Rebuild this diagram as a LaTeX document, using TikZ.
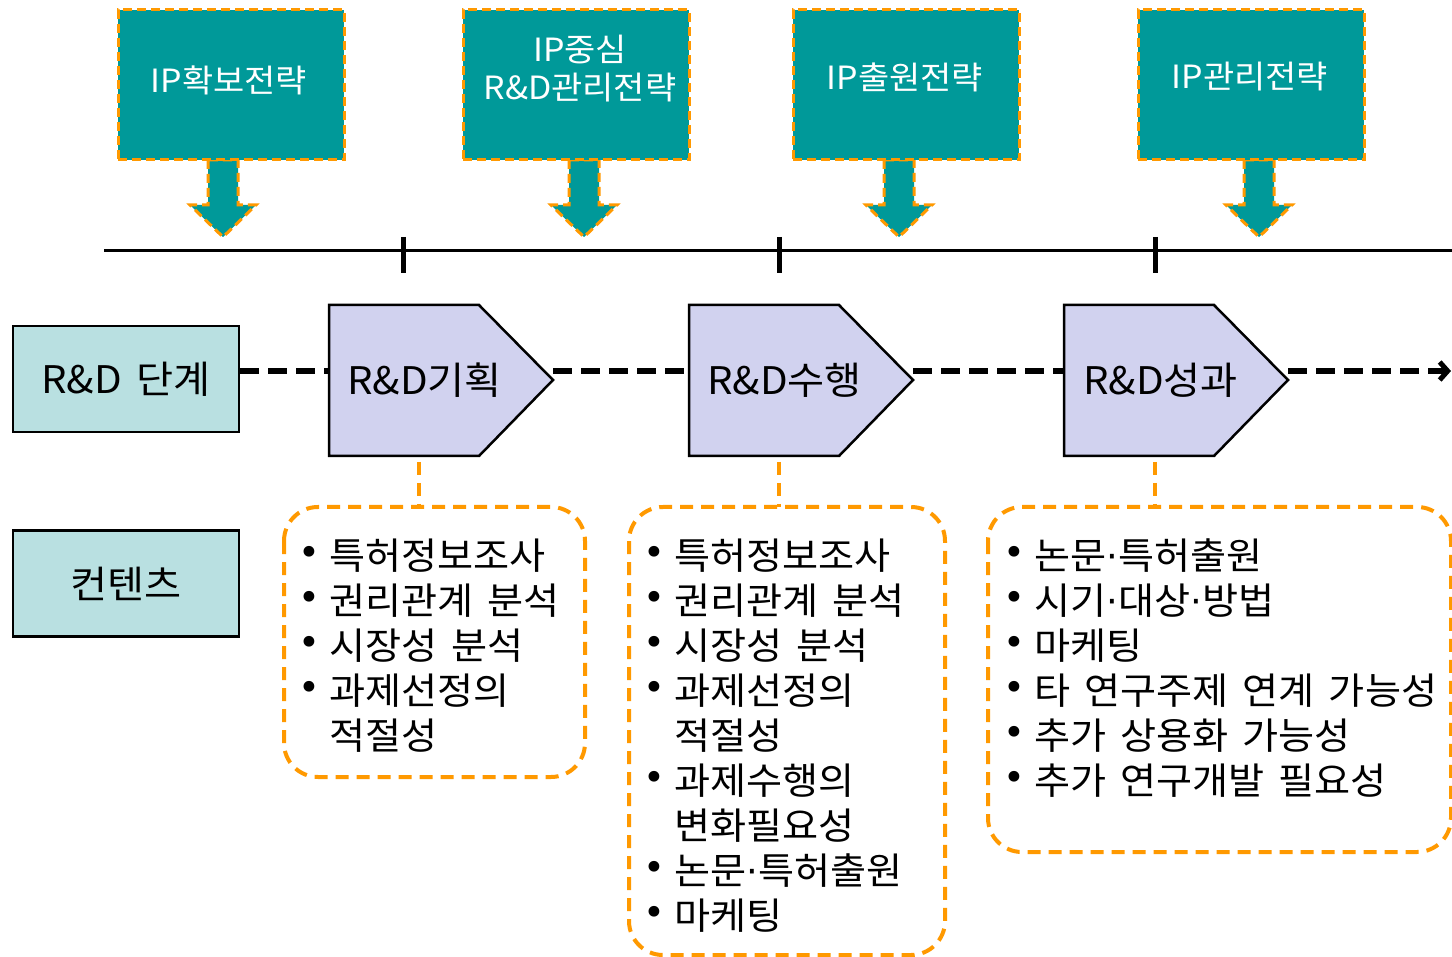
\documentclass[tikz,border=0pt]{standalone}
\usepackage{fontspec}
\setmainfont{Noto Sans CJK KR}[WordSpace=1.6,FakeStretch=1.06]
\newfontfamily\dvfont{DejaVu Sans}
\usetikzlibrary{arrows.meta}
\definecolor{tealA}{RGB}{0,153,153}
\definecolor{orngA}{RGB}{255,153,0}
\definecolor{ltealA}{RGB}{185,224,225}
\definecolor{lavA}{RGB}{209,210,239}
\newcommand\mybul{\makebox[31pt][l]{\raisebox{4pt}{\dvfont •}}}
\newcommand\myind{\hspace*{31pt}}
\newcommand\mdt{{\dvfont ·}}
\tikzset{
 topbox/.style={fill=tealA, draw=orngA, line width=3pt, dash pattern=on 9pt off 5pt,
   minimum width=226pt, minimum height=150pt, text=white,
   font=\fontsize{32}{38}\selectfont, align=center, inner sep=0pt},
 downarr/.style={fill=tealA, draw=orngA, line width=3pt, dash pattern=on 9pt off 5pt, line join=miter},
 leftbox/.style={fill=ltealA, draw=black, line width=2.5pt, minimum width=226pt,
   minimum height=106pt, font=\fontsize{38}{40}\selectfont, inner sep=0pt},
 pent/.style={fill=lavA, draw=black, line width=2.5pt, line join=miter},
 stagelbl/.style={font=\fontsize{38}{40}\selectfont, anchor=west, inner sep=0pt},
 flow/.style={line width=6pt, dash pattern=on 19pt off 9pt},
 cbox/.style={draw=orngA, line width=4pt, dash pattern=on 13pt off 8pt, rounded corners=34pt},
 clink/.style={draw=orngA, line width=4pt, dash pattern=on 13pt off 8pt},
 bullets/.style={font=\fontsize{37}{45}\selectfont, align=left, anchor=north west, inner sep=0pt},
 tline/.style={line width=3pt},
 tickmk/.style={line width=5pt}
}
\begin{document}
\begin{tikzpicture}[x=1pt,y=-1pt]
\useasboundingbox (0,0) rectangle (1452,957);
\fill[white] (0,0) rectangle (1452,957);

% down arrows
\foreach \cx/\nm in {223/a1,584/a2,899/a3,1259/a4}{
  \draw[downarr] (\cx-15,160) -- (\cx-15,205) -- (\cx-33,205) -- (\cx,237)
     -- (\cx+33,205) -- (\cx+15,205) -- (\cx+15,160) -- cycle;
}
% top boxes
\node[topbox] (t1) at (231,85) {};
\node[topbox] (t2) at (576,85) {};
\node[topbox] (t3) at (906,85) {};
\node[topbox] (t4) at (1251,85) {};
\node[text=white, font=\fontsize{32}{38}\selectfont, inner sep=0pt] (t1l) at (229,80) {IP확보전략};
\node[text=white, font=\fontsize{32}{38}\selectfont, inner sep=0pt, align=center] (t2l) at (580,69) {IP중심\\R\&D관리전략};
\node[text=white, font=\fontsize{32}{38}\selectfont, inner sep=0pt] (t3l) at (905,77) {IP출원전략};
\node[text=white, font=\fontsize{32}{38}\selectfont, inner sep=0pt] (t4l) at (1250,77) {IP관리전략};

% timeline
\coordinate (tlA) at (104,251);
\coordinate (tlB) at (1452,251);
\draw[tline] (tlA) -- (tlB);
\foreach \tx in {403,779,1155}{
  \draw[tickmk] (\tx,237) -- (\tx,273);
}

% left boxes
\node[leftbox] (stage) at (126,379) {R\&D 단계};
\node[leftbox] (content) at (126,583.5) {컨텐츠};

% pentagons
\draw[pent] (329,305) -- (479,305) -- (553,380) -- (479,456) -- (329,456) -- cycle;
\draw[pent] (689,305) -- (839,305) -- (913,380) -- (839,456) -- (689,456) -- cycle;
\draw[pent] (1064,305) -- (1214,305) -- (1288,380) -- (1214,456) -- (1064,456) -- cycle;
\coordinate (p1in) at (329,371); \coordinate (p1out) at (553,371);
\coordinate (p2in) at (689,371); \coordinate (p2out) at (913,371);
\coordinate (p3in) at (1064,371); \coordinate (p3out) at (1288,371);
\coordinate (flowend) at (1451,371);
\node[stagelbl] (s1) at (347,380) {R\&D기획};
\node[stagelbl] (s2) at (707,380) {R\&D수행};
\node[stagelbl] (s3) at (1083,380) {R\&D성과};

% flow connectors
\draw[flow] (stage.east |- p1in) -- (p1in);
\draw[flow] (p1out) -- (p2in);
\draw[flow] (p2out) -- (p3in);
\draw[flow, -{Straight Barb[length=8pt,width=18pt,line width=5pt]}] (p3out) -- (flowend);

% content boxes
\draw[cbox] (284,507) rectangle (585,777);
\draw[cbox] (629,507) rectangle (945,955);
\draw[cbox] (988,507) rectangle (1451,852);
\coordinate (b1top) at (419,507); \coordinate (b2top) at (779,507); \coordinate (b3top) at (1155,507);
\coordinate (p1bot) at (419,462); \coordinate (p2bot) at (779,462); \coordinate (p3bot) at (1155,462);
\draw[clink] (p1bot) -- (b1top);
\draw[clink] (p2bot) -- (b2top);
\draw[clink] (p3bot) -- (b3top);

\node[bullets] (c1) at (298,539) {\mybul 특허정보조사\\\mybul 권리관계 분석\\\mybul 시장성 분석\\\mybul 과제선정의\\\myind 적절성};
\node[bullets] (c2) at (643,539) {\mybul 특허정보조사\\\mybul 권리관계 분석\\\mybul 시장성 분석\\\mybul 과제선정의\\\myind 적절성\\\mybul 과제수행의\\\myind 변화필요성\\\mybul 논문\mdt 특허출원\\\mybul 마케팅};
\node[bullets] (c3) at (1003,539) {\mybul 논문\mdt 특허출원\\\mybul 시기\mdt 대상\mdt 방법\\\mybul 마케팅\\\mybul 타 연구주제 연계 가능성\\\mybul 추가 상용화 가능성\\\mybul 추가 연구개발 필요성};
\end{tikzpicture}
\end{document}
